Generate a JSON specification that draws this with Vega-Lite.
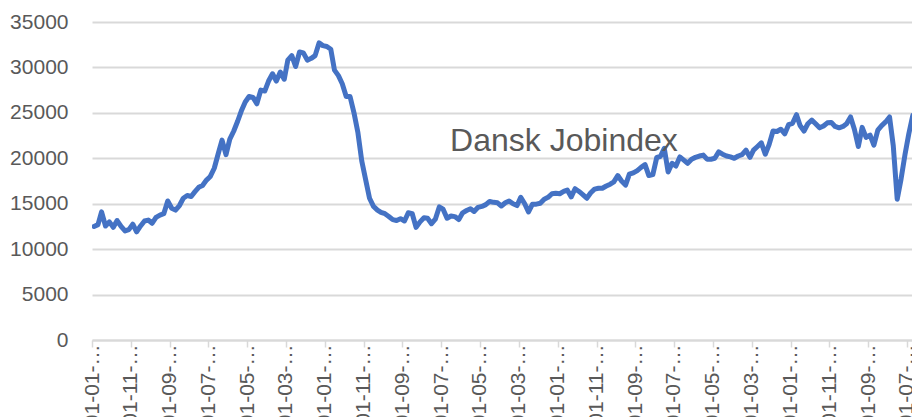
{
  "$schema": "https://vega.github.io/schema/vega-lite/v6.json",
  "autosize": "none",
  "width": 820,
  "height": 318,
  "padding": {"left": 92, "top": 22, "right": 0, "bottom": 77},
  "background": "white",
  "config": {"view": {"stroke": null}, "font": "Liberation Sans"},
  "datasets": {
    "jobs": [
      {"d":"2003-01-01","v":12500},{"d":"2003-02-01","v":12700},{"d":"2003-03-01","v":14100},{"d":"2003-04-01","v":12550},{"d":"2003-05-01","v":13000},{"d":"2003-06-01","v":12400},{"d":"2003-07-01","v":13150},{"d":"2003-08-01","v":12500},{"d":"2003-09-01","v":12000},{"d":"2003-10-01","v":12150},{"d":"2003-11-01","v":12750},{"d":"2003-12-01","v":11900},
      {"d":"2004-01-01","v":12550},{"d":"2004-02-01","v":13100},{"d":"2004-03-01","v":13200},{"d":"2004-04-01","v":12850},{"d":"2004-05-01","v":13500},{"d":"2004-06-01","v":13750},{"d":"2004-07-01","v":13900},{"d":"2004-08-01","v":15300},{"d":"2004-09-01","v":14500},{"d":"2004-10-01","v":14300},{"d":"2004-11-01","v":14800},{"d":"2004-12-01","v":15600},
      {"d":"2005-01-01","v":15900},{"d":"2005-02-01","v":15800},{"d":"2005-03-01","v":16300},{"d":"2005-04-01","v":16800},{"d":"2005-05-01","v":17000},{"d":"2005-06-01","v":17600},{"d":"2005-07-01","v":18000},{"d":"2005-08-01","v":18900},{"d":"2005-09-01","v":20500},{"d":"2005-10-01","v":22000},{"d":"2005-11-01","v":20400},{"d":"2005-12-01","v":22100},
      {"d":"2006-01-01","v":23000},{"d":"2006-02-01","v":24100},{"d":"2006-03-01","v":25200},{"d":"2006-04-01","v":26200},{"d":"2006-05-01","v":26800},{"d":"2006-06-01","v":26700},{"d":"2006-07-01","v":26000},{"d":"2006-08-01","v":27500},{"d":"2006-09-01","v":27400},{"d":"2006-10-01","v":28500},{"d":"2006-11-01","v":29300},{"d":"2006-12-01","v":28500},
      {"d":"2007-01-01","v":29500},{"d":"2007-02-01","v":28700},{"d":"2007-03-01","v":30800},{"d":"2007-04-01","v":31300},{"d":"2007-05-01","v":30100},{"d":"2007-06-01","v":31700},{"d":"2007-07-01","v":31600},{"d":"2007-08-01","v":30800},{"d":"2007-09-01","v":31000},{"d":"2007-10-01","v":31300},{"d":"2007-11-01","v":32700},{"d":"2007-12-01","v":32400},
      {"d":"2008-01-01","v":32300},{"d":"2008-02-01","v":32000},{"d":"2008-03-01","v":29700},{"d":"2008-04-01","v":29100},{"d":"2008-05-01","v":28200},{"d":"2008-06-01","v":26800},{"d":"2008-07-01","v":26800},{"d":"2008-08-01","v":25000},{"d":"2008-09-01","v":22800},{"d":"2008-10-01","v":19700},{"d":"2008-11-01","v":17600},{"d":"2008-12-01","v":15600},
      {"d":"2009-01-01","v":14700},{"d":"2009-02-01","v":14300},{"d":"2009-03-01","v":14050},{"d":"2009-04-01","v":13900},{"d":"2009-05-01","v":13600},{"d":"2009-06-01","v":13250},{"d":"2009-07-01","v":13150},{"d":"2009-08-01","v":13350},{"d":"2009-09-01","v":13100},{"d":"2009-10-01","v":14000},{"d":"2009-11-01","v":13900},{"d":"2009-12-01","v":12400},
      {"d":"2010-01-01","v":13000},{"d":"2010-02-01","v":13450},{"d":"2010-03-01","v":13400},{"d":"2010-04-01","v":12800},{"d":"2010-05-01","v":13300},{"d":"2010-06-01","v":14650},{"d":"2010-07-01","v":14400},{"d":"2010-08-01","v":13400},{"d":"2010-09-01","v":13650},{"d":"2010-10-01","v":13580},{"d":"2010-11-01","v":13250},{"d":"2010-12-01","v":14000},
      {"d":"2011-01-01","v":14250},{"d":"2011-02-01","v":14450},{"d":"2011-03-01","v":14150},{"d":"2011-04-01","v":14600},{"d":"2011-05-01","v":14700},{"d":"2011-06-01","v":14900},{"d":"2011-07-01","v":15250},{"d":"2011-08-01","v":15150},{"d":"2011-09-01","v":15100},{"d":"2011-10-01","v":14750},{"d":"2011-11-01","v":15100},{"d":"2011-12-01","v":15300},
      {"d":"2012-01-01","v":15000},{"d":"2012-02-01","v":14800},{"d":"2012-03-01","v":15700},{"d":"2012-04-01","v":15000},{"d":"2012-05-01","v":14100},{"d":"2012-06-01","v":14950},{"d":"2012-07-01","v":14950},{"d":"2012-08-01","v":15050},{"d":"2012-09-01","v":15500},{"d":"2012-10-01","v":15700},{"d":"2012-11-01","v":16100},{"d":"2012-12-01","v":16150},
      {"d":"2013-01-01","v":16100},{"d":"2013-02-01","v":16350},{"d":"2013-03-01","v":16500},{"d":"2013-04-01","v":15750},{"d":"2013-05-01","v":16650},{"d":"2013-06-01","v":16350},{"d":"2013-07-01","v":16000},{"d":"2013-08-01","v":15600},{"d":"2013-09-01","v":16200},{"d":"2013-10-01","v":16600},{"d":"2013-11-01","v":16700},{"d":"2013-12-01","v":16700},
      {"d":"2014-01-01","v":16950},{"d":"2014-02-01","v":17150},{"d":"2014-03-01","v":17400},{"d":"2014-04-01","v":18100},{"d":"2014-05-01","v":17500},{"d":"2014-06-01","v":17050},{"d":"2014-07-01","v":18250},{"d":"2014-08-01","v":18400},{"d":"2014-09-01","v":18650},{"d":"2014-10-01","v":19000},{"d":"2014-11-01","v":19300},{"d":"2014-12-01","v":18100},
      {"d":"2015-01-01","v":18200},{"d":"2015-02-01","v":20100},{"d":"2015-03-01","v":20200},{"d":"2015-04-01","v":21100},{"d":"2015-05-01","v":18500},{"d":"2015-06-01","v":19450},{"d":"2015-07-01","v":19150},{"d":"2015-08-01","v":20150},{"d":"2015-09-01","v":19800},{"d":"2015-10-01","v":19450},{"d":"2015-11-01","v":19900},{"d":"2015-12-01","v":20100},
      {"d":"2016-01-01","v":20250},{"d":"2016-02-01","v":20350},{"d":"2016-03-01","v":19900},{"d":"2016-04-01","v":19900},{"d":"2016-05-01","v":20000},{"d":"2016-06-01","v":20700},{"d":"2016-07-01","v":20450},{"d":"2016-08-01","v":20250},{"d":"2016-09-01","v":20150},{"d":"2016-10-01","v":20000},{"d":"2016-11-01","v":20250},{"d":"2016-12-01","v":20400},
      {"d":"2017-01-01","v":20900},{"d":"2017-02-01","v":20100},{"d":"2017-03-01","v":20900},{"d":"2017-04-01","v":21300},{"d":"2017-05-01","v":21700},{"d":"2017-06-01","v":20450},{"d":"2017-07-01","v":21500},{"d":"2017-08-01","v":23000},{"d":"2017-09-01","v":22950},{"d":"2017-10-01","v":23200},{"d":"2017-11-01","v":22700},{"d":"2017-12-01","v":23700},
      {"d":"2018-01-01","v":23850},{"d":"2018-02-01","v":24800},{"d":"2018-03-01","v":23600},{"d":"2018-04-01","v":23000},{"d":"2018-05-01","v":23800},{"d":"2018-06-01","v":24200},{"d":"2018-07-01","v":23800},{"d":"2018-08-01","v":23350},{"d":"2018-09-01","v":23550},{"d":"2018-10-01","v":23900},{"d":"2018-11-01","v":23950},{"d":"2018-12-01","v":23500},
      {"d":"2019-01-01","v":23350},{"d":"2019-02-01","v":23500},{"d":"2019-03-01","v":23800},{"d":"2019-04-01","v":24550},{"d":"2019-05-01","v":23200},{"d":"2019-06-01","v":21300},{"d":"2019-07-01","v":23400},{"d":"2019-08-01","v":22300},{"d":"2019-09-01","v":22560},{"d":"2019-10-01","v":21450},{"d":"2019-11-01","v":23100},{"d":"2019-12-01","v":23600},
      {"d":"2020-01-01","v":24000},{"d":"2020-02-01","v":24550},{"d":"2020-03-01","v":21400},{"d":"2020-04-01","v":15500},{"d":"2020-05-01","v":17700},{"d":"2020-06-01","v":20400},{"d":"2020-07-01","v":22700},{"d":"2020-08-01","v":24700}
    ],
    "note": [{"label": "Dansk Jobindex"}]
  },
  "layer": [
    {
      "data": {"name": "jobs"},
      "mark": {"type": "line", "color": "#4472C4", "strokeWidth": 5, "strokeJoin": "round", "strokeCap": "round", "clip": true},
      "encoding": {
        "x": {
          "field": "d",
          "type": "temporal",
          "scale": {
            "type": "utc",
            "domain": [1039996800000, 1595721600000]
          },
          "axis": {
            "title": null,
            "grid": false,
            "tickCount": 40,
            "labelExpr": "utcFormat(datum.value, '%d-%m-…')",
            "values": [1041379200000, 1067644800000, 1093996800000, 1120176000000, 1146441600000, 1172707200000, 1199145600000, 1225497600000, 1251763200000, 1277942400000, 1304208000000, 1330560000000, 1356998400000, 1383264000000, 1409529600000, 1435708800000, 1462060800000, 1488326400000, 1514764800000, 1541030400000, 1567296000000, 1593561600000],
            "labelAngle": 270,
            "labelAlign": "right",
            "labelBaseline": "middle",
            "labelFont": "Liberation Sans",
            "labelFontSize": 21,
            "labelColor": "#595959",
            "labelPadding": -3,
            "labelOverlap": false,
            "labelFlush": false,
            "labelBound": false,
            "domainColor": "#d9d9d9",
            "domainWidth": 2,
            "tickColor": "#d9d9d9",
            "tickWidth": 1.5,
            "tickSize": 7,
            "tickOffset": -2
          }
        },
        "y": {
          "field": "v",
          "type": "quantitative",
          "scale": {"domain": [0, 35000], "nice": false, "zero": true},
          "axis": {
            "title": null,
            "values": [0, 5000, 10000, 15000, 20000, 25000, 30000, 35000],
            "format": "d",
            "domain": false,
            "ticks": false,
            "tickSize": 0,
            "labelPadding": 24,
            "labelFont": "Liberation Sans",
            "labelFontSize": 21,
            "labelColor": "#595959",
            "labelFlush": false,
            "gridColor": "#d9d9d9",
            "gridWidth": 2
          }
        }
      }
    },
    {
      "data": {"name": "note"},
      "mark": {"type": "text", "align": "left", "baseline": "alphabetic", "font": "Liberation Sans", "fontSize": 32, "color": "#595959"},
      "encoding": {
        "x": {"datum": 1282694400000, "type": "temporal"},
        "y": {"datum": 20830, "type": "quantitative"},
        "text": {"field": "label"}
      }
    }
  ]
}
